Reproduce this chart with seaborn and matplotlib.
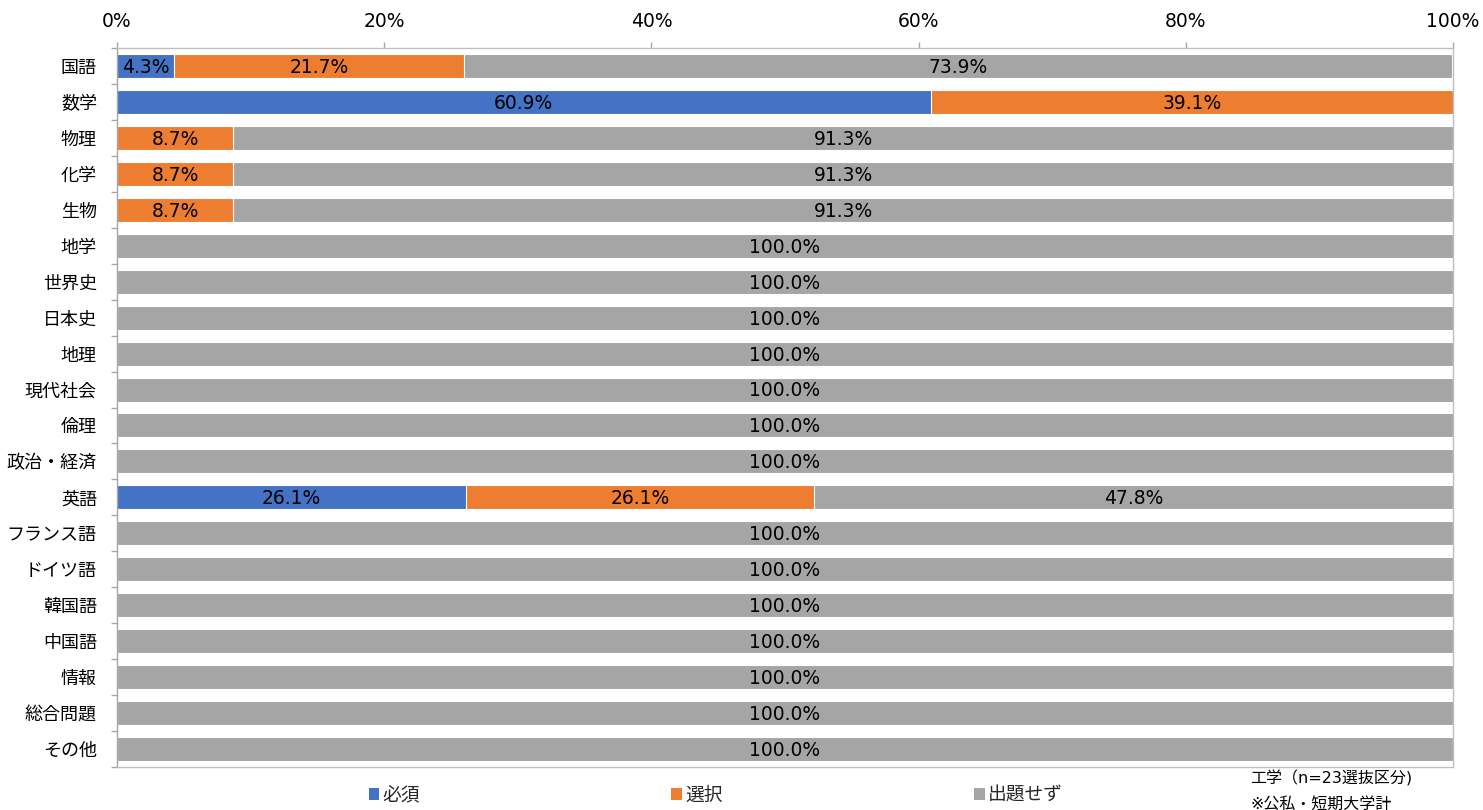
import matplotlib
matplotlib.use("Agg")
import matplotlib.pyplot as plt
import seaborn as sns
import numpy as np
import pandas as pd

categories = ["国語", "数学", "物理", "化学", "生物", "地学", "世界史", "日本史", "地理", "現代社会",
              "倫理", "政治・経済", "英語", "フランス語", "ドイツ語", "韓国語", "中国語", "情報", "総合問題", "その他"]
required = [4.3, 60.9, 0, 0, 0, 0, 0, 0, 0, 0, 0, 0, 26.1, 0, 0, 0, 0, 0, 0, 0]
elective = [21.7, 39.1, 8.7, 8.7, 8.7, 0, 0, 0, 0, 0, 0, 0, 26.1, 0, 0, 0, 0, 0, 0, 0]
none_ = [73.9, 0, 91.3, 91.3, 91.3, 100, 100, 100, 100, 100, 100, 100, 47.8, 100, 100, 100, 100, 100, 100, 100]
series_names = ["必須", "選択", "出題せず"]
xticks = [0, 20, 40, 60, 80, 100]

colors = ["#4472C4", "#ED7D31", "#A5A5A5"]

sns.set_theme(style="white")
plt.rcParams["font.family"] = ["DejaVu Sans", "Noto Sans CJK JP"]

df = pd.DataFrame({"cat": categories, "req": required, "ele": elective, "non": none_})
df["c1"] = df["req"]
df["c2"] = df["req"] + df["ele"]
df["c3"] = df["req"] + df["ele"] + df["non"]

fig = plt.figure(figsize=(14.83, 8.10), dpi=100)
ax = fig.add_axes([117/1483, 1 - 767/810, (1453 - 117)/1483, (767 - 48)/810])

bw = 0.667
for col, color, name in zip(["c3", "c2", "c1"], colors[::-1], series_names[::-1]):
    sns.barplot(data=df, x=col, y="cat", orient="h", color=color, width=bw,
                edgecolor="white", linewidth=0.8, ax=ax, label=name, saturation=1)

# data labels
for i, cat in enumerate(categories):
    left = 0
    for v in (required[i], elective[i], none_[i]):
        if v > 0:
            ax.text(left + v / 2, i + 0.04, f"{v:.1f}%", ha="center", va="center",
                    fontsize=13.5, color="#000000")
        left += v

ax.set_xlim(0, 100)
ax.set_ylim(len(categories) - 0.5, -0.5)
ax.xaxis.tick_top()
ax.set_xticks(xticks)
ax.set_xticklabels([f"{t}%" for t in xticks], fontsize=13.5, color="#000000")
ax.tick_params(axis="x", which="major", top=True, bottom=False, length=4, width=1,
               color="#A6A6A6", pad=8, direction="out")
ax.set_xlabel("")
ax.set_ylabel("")

ax.set_yticks(np.arange(len(categories)))
ax.set_yticklabels(categories, fontsize=13, color="#000000")
ax.set_yticks(np.arange(len(categories) + 1) - 0.5, minor=True)
ax.tick_params(axis="y", which="major", left=False, length=0, pad=14.5)
ax.tick_params(axis="y", which="minor", left=True, length=4, width=1, color="#A6A6A6", direction="out")

for side, c in [("left", "#A6A6A6"), ("top", "#BFBFBF"), ("bottom", "#BFBFBF"), ("right", "#BFBFBF")]:
    ax.spines[side].set_visible(True)
    ax.spines[side].set_color(c)
    ax.spines[side].set_linewidth(1)
ax.grid(False)

# legend
if ax.get_legend() is not None:
    ax.get_legend().remove()
from matplotlib.patches import Patch
handles = [Patch(facecolor=c, edgecolor="none") for c in colors]
fig.legend(handles, series_names, loc="center", bbox_to_anchor=(716/1483, 1 - 795/810),
           ncol=3, frameon=False, fontsize=13.5, handlelength=0.55, handleheight=0.55,
           handletextpad=0.2, columnspacing=13.4, borderpad=0, borderaxespad=0)

fig.text(1250/1483, 1 - 778/810, "工学（n=23選抜区分)", fontsize=11.5, va="center", ha="left",
         color="#000000")
fig.text(1250/1483, 1 - 805/810, "※公私・短期大学計", fontsize=11.5, va="center", ha="left",
         color="#000000")

fig.savefig("out.png", dpi=100)
